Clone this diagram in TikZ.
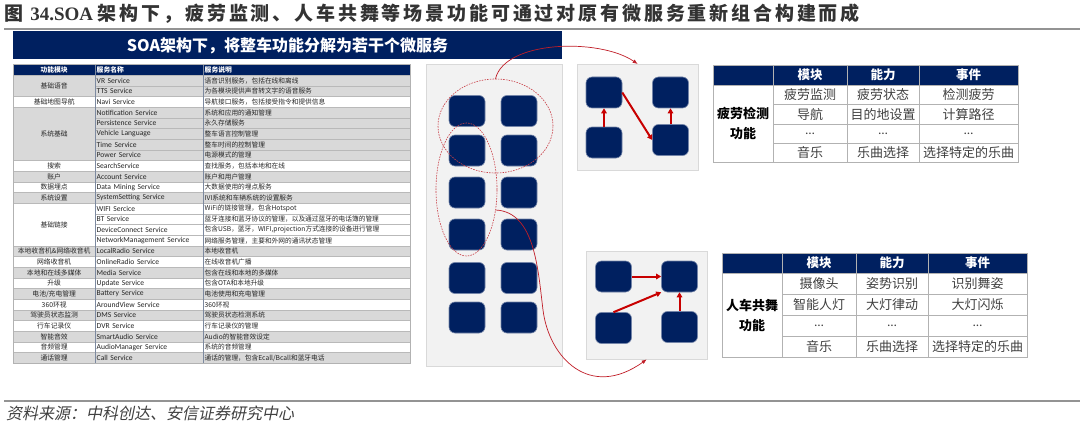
\documentclass[tikz,border=0pt]{standalone}
\usepackage{fontspec}
\setmainfont{Liberation Serif}
\newfontfamily\cjk{Noto Sans CJK SC}
\newfontfamily\cjkttl{Noto Sans CJK SC}[LetterSpace=15]
\newfontfamily\cjksrc{Noto Sans CJK SC}[FakeSlant=0.2]
\newfontfamily\calib{Carlito}
\usepackage{xcolor}
\usetikzlibrary{arrows.meta,positioning,shapes.geometric}

\definecolor{navy}{RGB}{0,32,96}
\definecolor{rowgray}{RGB}{217,217,217}
\definecolor{panelgray}{RGB}{242,242,242}
\definecolor{slate}{RGB}{125,138,160}
\definecolor{linkred}{RGB}{192,30,40}
\definecolor{flowred}{RGB}{200,0,0}

\begin{document}
\begin{tikzpicture}[x=1pt,y=-1pt,
  rule/.style={draw=gray!85,line width=1.2pt},
  banner/.style={fill=navy,text=white,minimum width=549,minimum height=28,inner sep=0pt,font=\cjk\bfseries\fontsize{16}{18}\selectfont},
  thd/.style={fill=navy,draw=gray!50,anchor=north west,minimum height=11,inner xsep=1.5pt,inner ysep=0pt,text=white,font=\cjk\bfseries\fontsize{6.8}{8}\selectfont},
  grp/.style={draw=gray!55,anchor=north west,text width=79,align=center,inner xsep=1.5pt,inner ysep=0pt,text=black!85,font=\cjk\fontsize{6.8}{8}\selectfont},
  svc/.style={draw=gray!55,anchor=north west,minimum height=10.667,text width=105,align=left,inner xsep=1.5pt,inner ysep=0pt,text=black!85,font=\calib\fontsize{7.6}{8}\selectfont},
  dsc/.style={svc,text width=204,font=\cjk\fontsize{6.7}{8}\selectfont},
  coldiv/.style={draw=slate,line width=0.6pt},
  panel/.style={fill=panelgray,draw=gray!30,anchor=north west,inner sep=0pt},
  blk/.style={fill=navy,draw=navy!55!white,line width=0.6pt,rounded corners=6,minimum width=36,minimum height=31,inner sep=0pt},
  ring/.style={ellipse,draw=linkred!85,dash pattern=on 1.6pt off 1.1pt,line width=0.6pt,inner sep=0pt},
  link/.style={draw=linkred,line width=0.7pt,-{Latex[length=5pt,width=4pt]}},
  flow/.style={draw=flowred,line width=2pt,-{Triangle[length=5pt,width=5.5pt]}},
  fhd/.style={fill=navy,draw=gray!60,anchor=north west,minimum height=20,inner sep=0pt,text=white,font=\cjk\bfseries\fontsize{12.5}{14}\selectfont},
  fcell/.style={draw=gray!60,anchor=north west,inner sep=0pt,text=black!75,font=\cjk\fontsize{13}{15}\selectfont},
  flbl/.style={draw=gray!60,anchor=north west,minimum width=60,inner sep=0pt,align=center,font=\cjk\bfseries\fontsize{13}{20}\selectfont}
]
\useasboundingbox (0,0) rectangle (1080,428);

% title and rules
\node[anchor=west,inner sep=0pt,text=black!80,font=\fontsize{19}{22}\selectfont] (ttl) at (4,14)
  {\cjkttl\bfseries 图 \rmfamily\bfseries 34.SOA \cjkttl 架构下，疲劳监测、人车共舞等场景功能可通过对原有微服务重新组合构建而成};
\coordinate (topL) at (4,29);
\coordinate (topR) at (1080,29);
\coordinate (botL) at (4,401);
\coordinate (botR) at (1080,401);
\draw[rule] (topL) -- (topR);
\draw[rule] (botL) -- (botR);
\node[anchor=west,inner sep=0pt,text=black!75,font=\cjksrc\fontsize{16}{18}\selectfont] (src) at (6,413) {资料来源：中科创达、安信证券研究中心};

\node[banner] (ban) at (287.5,45.5) {SOA架构下，将整车功能分解为若干个微服务};

% service table
\node[thd,text width=79,align=center] (h1) at (13,64) {功能模块};
\node[thd,text width=105,align=left] (h2) at (95,64) {服务名称};
\node[thd,text width=204,align=left] (h3) at (203,64) {服务说明};
\foreach \ri/\sv/\ds/\fl in {1/VR Service/语音识别服务，包括在线和离线/rowgray,
  2/TTS Service/为各模块提供声音转文字的语音服务/rowgray,
  3/Navi Service/导航接口服务，包括接受指令和提供信息/white,
  4/Notification Service/系统和应用的通知管理/rowgray,
  5/Persistence Service/永久存储服务/rowgray,
  6/Vehicle Language/整车语言控制管理/rowgray,
  7/Time Service/整车时间的控制管理/rowgray,
  8/Power Service/电源模式的管理/rowgray,
  9/SearchService/查找服务，包括本地和在线/white,
  10/Account Service/账户和用户管理/rowgray,
  11/Data Mining Service/大数据使用的埋点服务/white,
  12/SystemSetting Service/IVI系统和车辆系统的设置服务/rowgray,
  13/WIFI Sercice/WiFi的链接管理，包含Hotspot/white,
  14/BT Service/蓝牙连接和蓝牙协议的管理，以及通过蓝牙的电话簿的管理/white,
  15/DeviceConnect Service/{包含USB，蓝牙，WIFI,projection方式连接的设备进行管理}/white,
  16/NetworkManagement Service/网络服务管理，主要和外网的通讯状态管理/white,
  17/LocalRadio Service/本地收音机/rowgray,
  18/OnlineRadio Service/在线收音机广播/white,
  19/Media Service/包含在线和本地的多媒体/rowgray,
  20/Update Service/包含OTA和本地升级/white,
  21/Battery Service/电池使用和充电管理/rowgray,
  22/AroundView Service/360环视/white,
  23/DMS Service/驾驶员状态检测系统/rowgray,
  24/DVR Service/行车记录仪的管理/white,
  25/SmartAudio Service/Audio的智能音效设定/rowgray,
  26/AudioManager Service/系统的音频管理/white,
  27/Call Service/{通话的管理，包含Ecall/Bcall和蓝牙电话}/rowgray}{
  \node[svc,fill=\fl] (svc\ri) at (95,{75+(\ri-1)*10.667}) {\sv};
  \node[dsc,fill=\fl] (dsc\ri) at (203,{75+(\ri-1)*10.667}) {\ds};
}
\foreach \ga/\gb/\gl/\fl in {1/2/基础语音/rowgray,3/3/基础地图导航/white,4/8/系统基础/rowgray,
  9/9/搜索/white,10/10/账户/rowgray,11/11/数据埋点/white,12/12/系统设置/rowgray,
  13/16/基础链接/white,17/17/本地收音机\&网络收音机/rowgray,18/18/网络收音机/white,
  19/19/本地和在线多媒体/rowgray,20/20/升级/white,21/21/{电池/充电管理}/rowgray,
  22/22/360环视/white,23/23/驾驶员状态监测/rowgray,24/24/行车记录仪/white,
  25/25/智能音效/rowgray,26/26/音频管理/white,27/27/通话管理/rowgray}
  \node[grp,fill=\fl,minimum height={(\gb-\ga+1)*10.667}] (grp\ga) at (13,{75+(\ga-1)*10.667}) {\gl};
\draw[coldiv] (h2.north west) -- (svc27.south west);
\draw[coldiv] (h3.north west) -- (dsc27.south west);
\draw[gray!60] (h1.north west) rectangle (dsc27.south east);

% micro service panels
\node[panel,minimum width=136,minimum height=302] (pmain) at (426,64) {};
\node[panel,minimum width=121,minimum height=106] (pfat) at (577,64) {};
\node[panel,minimum width=121,minimum height=108] (pdance) at (586,251) {};
\foreach \mr/\my in {1/111,2/150.5,3/192.5,4/234.5,5/278,6/317.5}
  \foreach \mc/\mx in {1/467,2/519}
    \node[blk] (m\mr\mc) at (\mx,\my) {};
\node[ring,minimum width=115,minimum height=94] (ringA) at (495.5,126) {};
\node[ring,minimum width=61,minimum height=133] (ringB) at (466.5,189.5) {};

\node[blk] (fTL) at (604,92.5) {};
\node[blk] (fBL) at (604,142.5) {};
\node[blk] (fTR) at (670.5,92.5) {};
\node[blk] (fBR) at (670.5,140) {};
\draw[flow] (fBL.north) -- (fTL.south);
\draw[flow] (fTL.east) -- (fBR.west);
\draw[flow] (fBR.north) -- (fTR.south);

\node[blk] (dTL) at (613.5,276.5) {};
\node[blk] (dTR) at (679.5,276.5) {};
\node[blk] (dBL) at (613.5,328) {};
\node[blk] (dBR) at (679.5,327) {};
\draw[flow] (dTL.east) -- (dTR.west);
\draw[flow] (dBL.north) -- (dTR.south west);
\draw[flow] (dBR.north) -- (dTR.south);

\coordinate (bendB) at (543,310);
\draw[link] (ringA.north) .. controls (505,40) and (600,38) .. (pfat.north);
\draw[link] (ringB.-35) .. controls (535,212) and (538,270) .. (bendB) .. controls (549,358) and (590,400) .. (pdance.south);

% fatigue table
\node[fhd,minimum width=60] (fh0) at (713,65) {};
\node[fhd,minimum width=74] (fh1) at (773,65) {模块};
\node[fhd,minimum width=72] (fh2) at (847,65) {能力};
\node[fhd,minimum width=99] (fh3) at (919,65) {事件};
\node[flbl,minimum height=77] (flb) at (713,85) {疲劳检测\\功能};
\foreach \rr/\ca/\cb/\cc in {0/疲劳监测/疲劳状态/检测疲劳,1/导航/目的地设置/计算路径,
  2/{\calib\ldots}/{\calib\ldots}/{\calib\ldots},3/音乐/乐曲选择/选择特定的乐曲}{
  \node[fcell,minimum width=74,minimum height=19.25] (fa\rr) at (773,{85+\rr*19.25}) {\ca};
  \node[fcell,minimum width=72,minimum height=19.25] (fb\rr) at (847,{85+\rr*19.25}) {\cb};
  \node[fcell,minimum width=99,minimum height=19.25] (fc\rr) at (919,{85+\rr*19.25}) {\cc};
}

% dance table
\node[fhd,minimum width=60] (dh0) at (722,253) {};
\node[fhd,minimum width=74] (dh1) at (782,253) {模块};
\node[fhd,minimum width=72] (dh2) at (856,253) {能力};
\node[fhd,minimum width=99] (dh3) at (928,253) {事件};
\node[flbl,minimum height=84] (dlb) at (722,273) {人车共舞\\功能};
\foreach \rr/\ca/\cb/\cc in {0/摄像头/姿势识别/识别舞姿,1/智能人灯/大灯律动/大灯闪烁,
  2/{\calib\ldots}/{\calib\ldots}/{\calib\ldots},3/音乐/乐曲选择/选择特定的乐曲}{
  \node[fcell,minimum width=74,minimum height=21] (da\rr) at (782,{273+\rr*21}) {\ca};
  \node[fcell,minimum width=72,minimum height=21] (db\rr) at (856,{273+\rr*21}) {\cb};
  \node[fcell,minimum width=99,minimum height=21] (dc\rr) at (928,{273+\rr*21}) {\cc};
}
\end{tikzpicture}
\end{document}
